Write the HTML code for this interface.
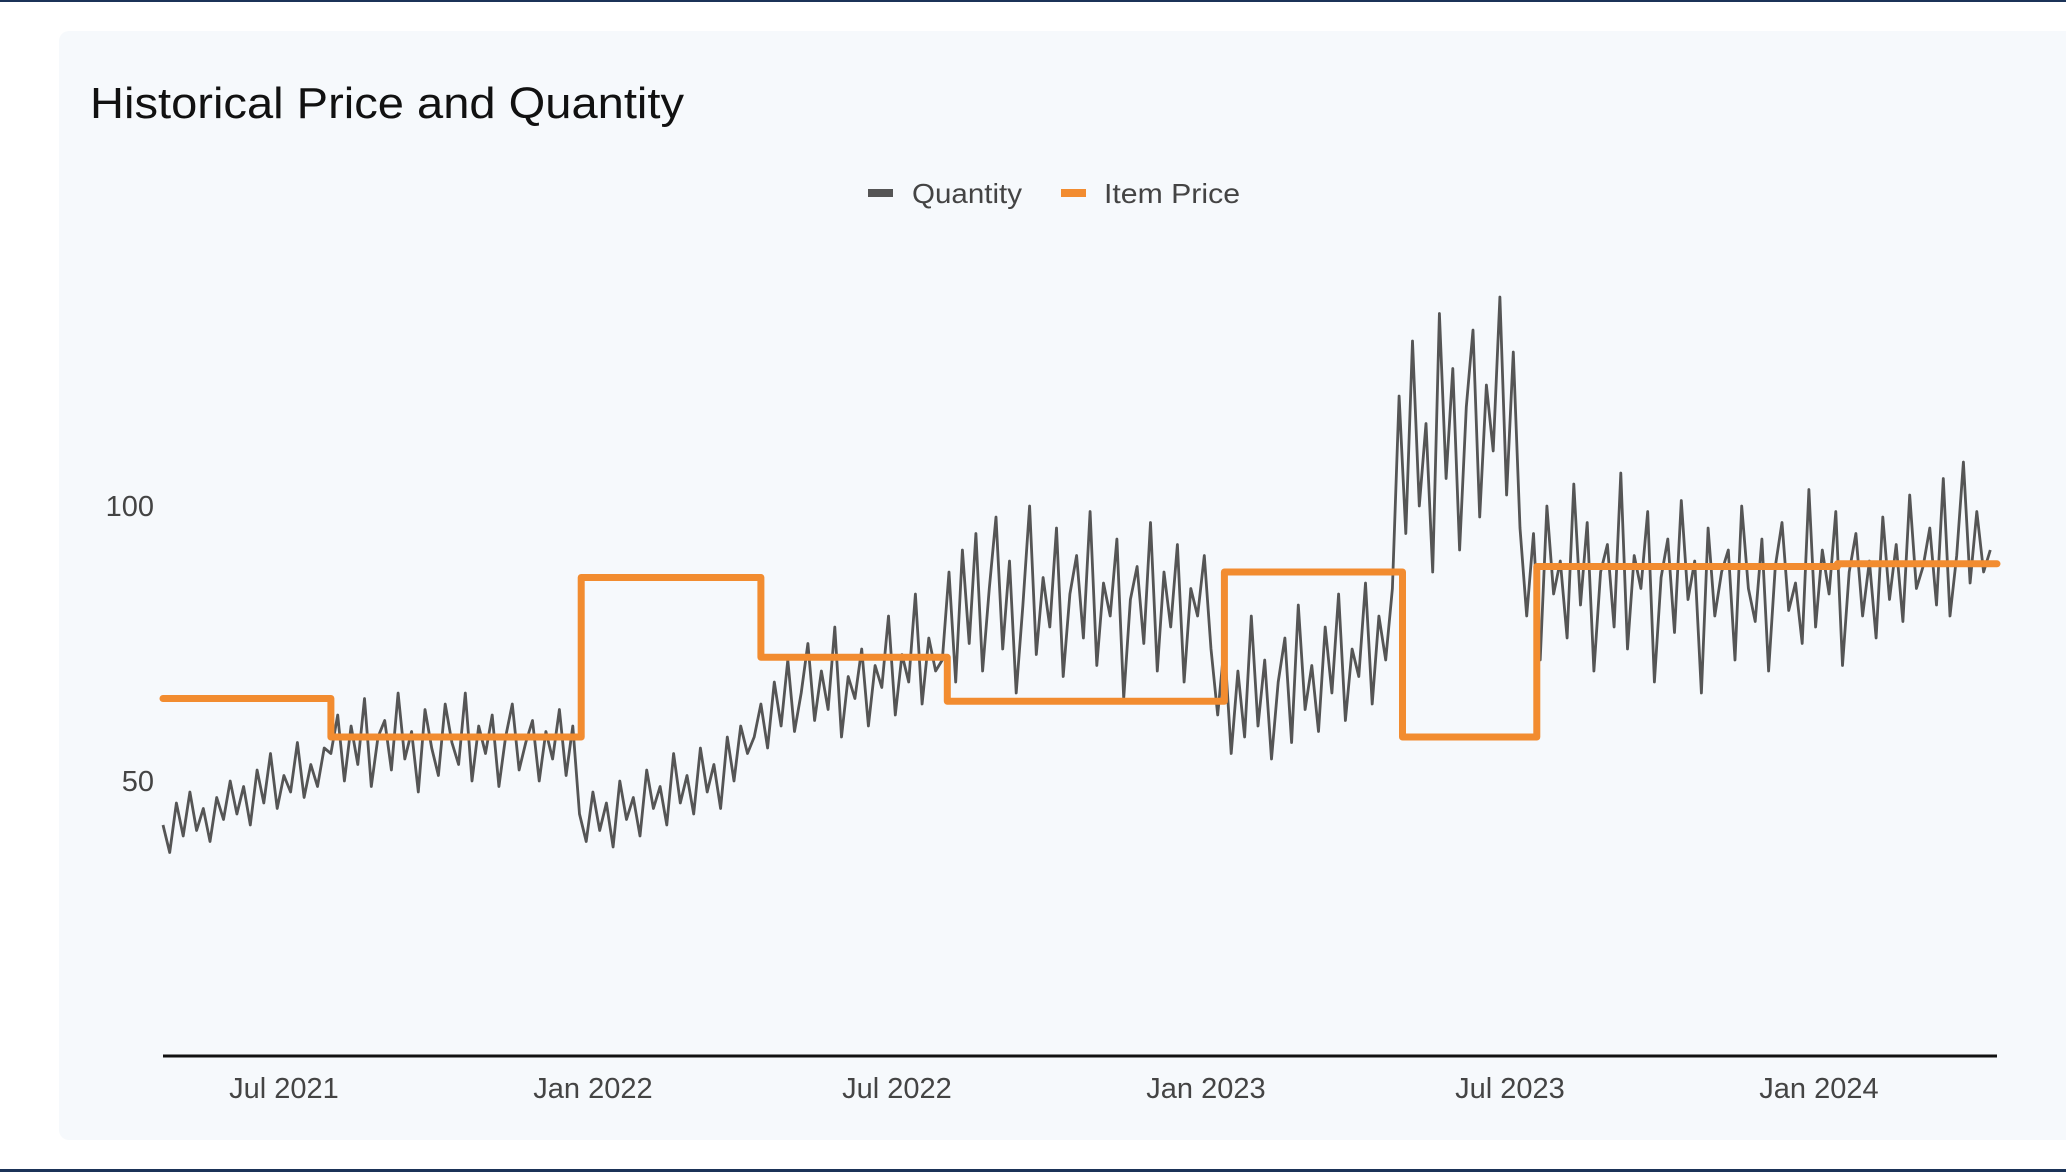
<!DOCTYPE html>
<html><head><meta charset="utf-8"><style>
html,body{margin:0;padding:0;background:#fff;width:2066px;height:1172px;overflow:hidden;font-family:"Liberation Sans",sans-serif;}
</style></head><body>
<svg id="chart" width="2066" height="1172" xmlns="http://www.w3.org/2000/svg">
<rect x="0" y="0" width="2066" height="2" fill="#1b3358"/>
<rect x="0" y="1169" width="2066" height="3" fill="#1b3358"/>
<rect x="59" y="31" width="2030" height="1109" rx="10" fill="#f6f9fc"/>
<text x="90" y="118" font-size="44" fill="#111" textLength="594" lengthAdjust="spacingAndGlyphs">Historical Price and Quantity</text>
<g>
<g><rect x="868" y="189" width="25" height="8" fill="#555"/><text x="912" y="203" font-size="28" fill="#444" textLength="110" lengthAdjust="spacingAndGlyphs">Quantity</text></g>
<g><rect x="1061" y="189" width="25" height="8" fill="#f28c30"/><text x="1104" y="203" font-size="28" fill="#444" textLength="136" lengthAdjust="spacingAndGlyphs">Item Price</text></g>
</g>
<g id="yticks"></g>
<g id="xticks"></g>
<line x1="163" y1="1056" x2="1997" y2="1056" stroke="#111" stroke-width="3"/>
<g id="series"></g>
</svg>
<script>
const startDate = Date.UTC(2021,3,20);
const dayStep = 4;
const quantity = [
42,37,46,40,48,41,45,39,47,43,50,44,49,42,52,46,55,45,51,48,57,47,53,49,56,
55,62,50,60,53,65,49,58,61,52,66,54,59,48,63,56,51,64,57,53,66,50,60,55,62,49,58,64,52,57,61,50,59,54,63,51,60,
44,39,48,41,46,38,50,43,47,40,52,45,49,42,55,46,51,44,56,48,53,45,58,50,60,55,
58,64,56,68,60,72,59,66,75,61,70,63,78,58,69,65,74,60,71,67,80,62,73,68,84,64,76,70,
72,88,68,92,75,95,70,85,98,74,90,66,82,100,73,87,78,96,69,84,91,76,99,71,86,80,94,65,83,89,75,97,70,88,78,93,68,85,80,91,74,
62,75,55,70,58,80,60,72,54,68,76,57,82,63,71,59,78,66,84,61,74,69,86,64,80,72,
85,120,95,130,100,115,88,135,105,125,92,118,132,98,122,110,138,102,128,96,
80,95,72,100,84,90,76,104,82,97,70,88,93,78,106,74,91,85,99,68,87,94,77,101,83,90,66,96,80,88,92,72,100,85,79,94,70,89,97,81,86,75,103,78,92,84,99,71,88,95,80,90,76,98,83,93,79,102,85,89,96,82,105,80,91,108,86,99,88,92
];
const priceStepDays = [0,100,249,356,467,632,738,818,997];
const priceValues = [65,58,87,72.5,64.5,88,58,89,89.5];
const endDay = 1092;
const yTicks = [50,100];
const xTickLabels = ["Jul 2021","Jan 2022","Jul 2022","Jan 2023","Jul 2023","Jan 2024"];
const xTickDates = [[2021,6,1],[2022,0,1],[2022,6,1],[2023,0,1],[2023,6,1],[2024,0,1]];

const x0=163, x1=1997, y0=1056, pxPerUnit=5.5;
const xScale = d => x0 + d*(x1-x0)/endDay;
const yScale = v => y0 - v*pxPerUnit;
const NS="http://www.w3.org/2000/svg";

const yg=document.getElementById('yticks');
yTicks.forEach(v=>{
  const t=document.createElementNS(NS,'text');
  
  
  t.setAttribute('x',154);t.setAttribute('y',yScale(v)+10);
  t.setAttribute('text-anchor','end');t.setAttribute('font-size','29');t.setAttribute('fill','#444');
  t.textContent=v;yg.appendChild(t);
});
const xg=document.getElementById('xticks');
xTickLabels.forEach((lab,i)=>{
  const d=xTickDates[i];
  const days=(Date.UTC(d[0],d[1],d[2])-startDate)/86400000;
  const t=document.createElementNS(NS,'text');
  
  
  t.setAttribute('x',xScale(days));t.setAttribute('y',1098);
  t.setAttribute('text-anchor','middle');t.setAttribute('font-size','29');t.setAttribute('fill','#444');
  t.textContent=lab;xg.appendChild(t);
});

const sg=document.getElementById('series');
let qd='';
quantity.forEach((v,i)=>{qd+=(i?'L':'M')+xScale(i*dayStep).toFixed(1)+','+yScale(v).toFixed(1);});
const qp=document.createElementNS(NS,'path');


qp.setAttribute('d',qd);qp.setAttribute('fill','none');qp.setAttribute('stroke','#555');
qp.setAttribute('stroke-width','2.8');qp.setAttribute('stroke-linejoin','round');
sg.appendChild(qp);

let pd='';
priceValues.forEach((v,i)=>{
  const xs=xScale(priceStepDays[i]);
  const xe=xScale(i+1<priceStepDays.length?priceStepDays[i+1]:endDay);
  pd+=(i?'L':'M')+xs.toFixed(1)+','+yScale(v).toFixed(1)+'L'+xe.toFixed(1)+','+yScale(v).toFixed(1);
});
const pp=document.createElementNS(NS,'path');


pp.setAttribute('d',pd);pp.setAttribute('fill','none');pp.setAttribute('stroke','#f28c30');
pp.setAttribute('stroke-width','7');pp.setAttribute('stroke-linejoin','round');pp.setAttribute('stroke-linecap','round');
sg.appendChild(pp);
</script>
</body></html>
